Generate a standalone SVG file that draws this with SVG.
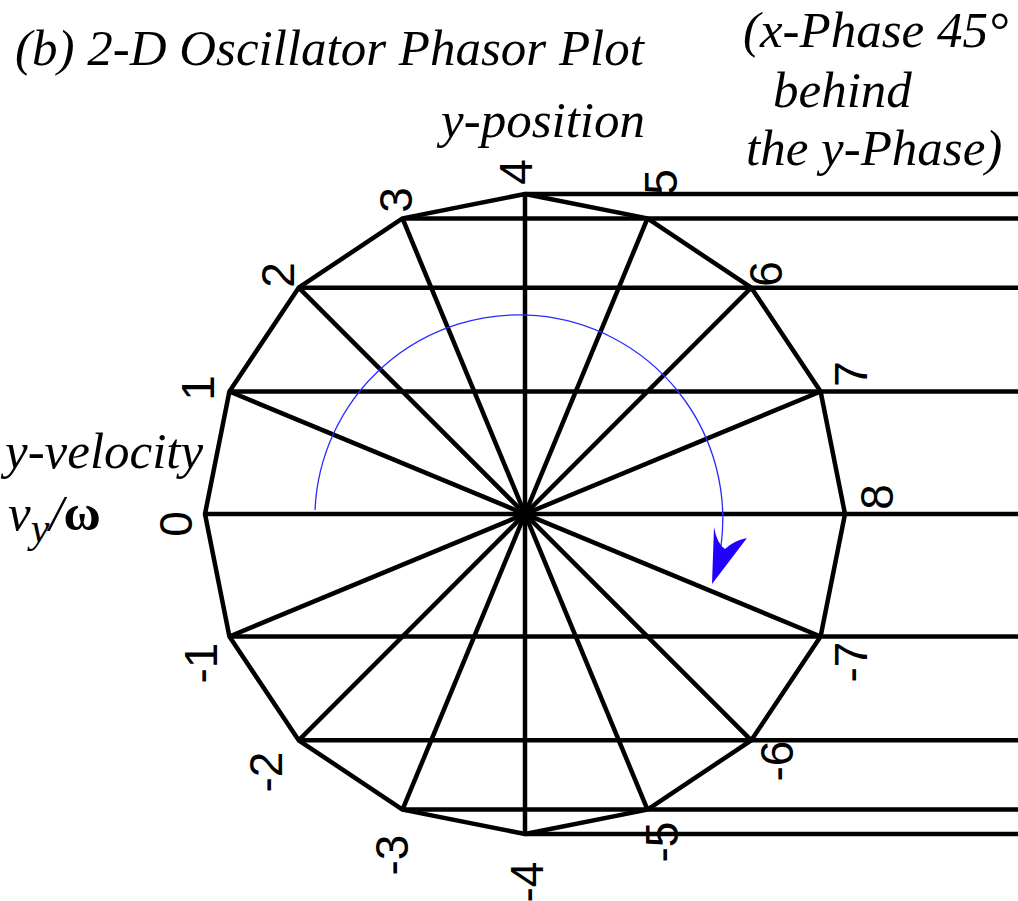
<svg xmlns="http://www.w3.org/2000/svg" width="1018" height="901" viewBox="0 0 1018 901">
<style>
.ln{stroke:#000;stroke-width:4.5;fill:none;stroke-linejoin:round}
.n{font-family:'Liberation Sans',Arial,sans-serif;font-size:46px;fill:#000;text-anchor:middle}
</style>
<rect width="1018" height="901" fill="#fff"/>
<g id="titles" font-family="Liberation Serif, DejaVu Serif, serif" font-style="italic" font-size="51" fill="#000">
<text x="15" y="65">(b) 2-D Oscillator Phasor Plot</text>
<text x="645" y="137" text-anchor="end">y-position</text>
<text x="743" y="47">(x-Phase 45°</text>
<text x="773" y="107">behind</text>
<text x="746" y="165">the y-Phase)</text>
<text x="5" y="468">y-velocity</text>
<text x="8" y="530">v<tspan dy="12" font-size="42">y</tspan><tspan dy="-12">/</tspan><tspan font-style="normal" font-weight="bold">ω</tspan></text>
</g>
<g id="connectors" class="ln">
<line x1="525" y1="194" x2="1018" y2="194"/>
<line x1="402.5" y1="218.4" x2="1018" y2="218.4"/>
<line x1="298.7" y1="287.7" x2="1018" y2="287.7"/>
<line x1="229.4" y1="391.5" x2="1018" y2="391.5"/>
<line x1="205" y1="514" x2="1018" y2="514"/>
<line x1="229.4" y1="636.5" x2="1018" y2="636.5"/>
<line x1="298.7" y1="740.3" x2="1018" y2="740.3"/>
<line x1="402.5" y1="809.6" x2="1018" y2="809.6"/>
<line x1="525" y1="834" x2="1018" y2="834"/>
<line x1="525" y1="194" x2="525" y2="834"/>
<line x1="402.5" y1="218.4" x2="647.5" y2="809.6"/>
<line x1="298.7" y1="287.7" x2="751.3" y2="740.3"/>
<line x1="229.4" y1="391.5" x2="820.6" y2="636.5"/>
<line x1="229.4" y1="636.5" x2="820.6" y2="391.5"/>
<line x1="298.7" y1="740.3" x2="751.3" y2="287.7"/>
<line x1="402.5" y1="809.6" x2="647.5" y2="218.4"/>
</g>
<g id="polygon">
<polygon class="ln" points="525,194 647.5,218.4 751.3,287.7 820.6,391.5 845,514 820.6,636.5 751.3,740.3 647.5,809.6 525,834 402.5,809.6 298.7,740.3 229.4,636.5 205,514 229.4,391.5 298.7,287.7 402.5,218.4"/>
<circle cx="525" cy="514" r="5" fill="#000"/>
</g>
<g id="rotation-arrow">
<path d="M 315,510 A 204 204 0 1 1 721,546" fill="none" stroke="#2a2aff" stroke-width="1.3"/>
<path d="M 712,584 L 714,527 Q 717,544 725,549 Q 733,541 747,538 Z" fill="#2200ff"/>
</g>
<g id="labels">
<text class="n" transform="translate(532,172) rotate(-90)">4</text>
<text class="n" transform="translate(412,200) rotate(-90)">3</text>
<text class="n" transform="translate(294,275) rotate(-90)">2</text>
<text class="n" transform="translate(214,388) rotate(-90)">1</text>
<text class="n" transform="translate(192,524) rotate(-90)">0</text>
<text class="n" transform="translate(217,663) rotate(-90)">-1</text>
<text class="n" transform="translate(282,772) rotate(-90)">-2</text>
<text class="n" transform="translate(408,855) rotate(-90)">-3</text>
<text class="n" transform="translate(543,882) rotate(-90)">-4</text>
<text class="n" transform="translate(677,182) rotate(-90)">5</text>
<text class="n" transform="translate(782,274) rotate(-90)">6</text>
<text class="n" transform="translate(867,374) rotate(-90)">7</text>
<text class="n" transform="translate(893,497) rotate(-90)">8</text>
<text class="n" transform="translate(867,662) rotate(-90)">-7</text>
<text class="n" transform="translate(793,761) rotate(-90)">-6</text>
<text class="n" transform="translate(678,842) rotate(-90)">-5</text>
</g>
</svg>
